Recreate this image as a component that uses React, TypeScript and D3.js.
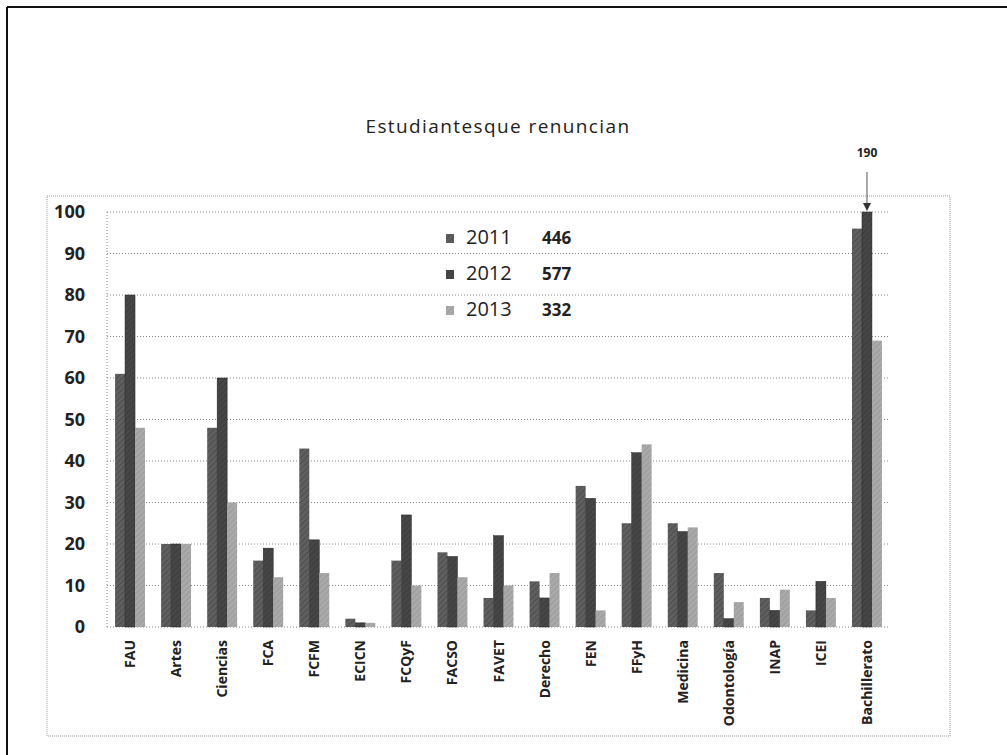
import React from 'react';
import * as d3 from 'd3';

const categories = ['FAU', 'Artes', 'Ciencias', 'FCA', 'FCFM', 'ECICN', 'FCQyF', 'FACSO', 'FAVET', 'Derecho', 'FEN', 'FFyH', 'Medicina', 'Odontología', 'INAP', 'ICEI', 'Bachillerato'];
const years = ['2011', '2012', '2013'];
const totals = [446, 577, 332];
const v2011 = [61, 20, 48, 16, 43, 2, 16, 18, 7, 11, 34, 25, 25, 13, 7, 4, 96];
const v2012 = [80, 20, 60, 19, 21, 1, 27, 17, 22, 7, 31, 42, 23, 2, 4, 11, 190];
const v2013 = [48, 20, 30, 12, 13, 1, 10, 12, 10, 13, 4, 44, 24, 6, 9, 7, 69];
const yTicks = [0, 10, 20, 30, 40, 50, 60, 70, 80, 90, 100];
const series = [v2011, v2012, v2013];
const colors = ['#5f5f5f', '#464646', '#a2a2a2'];

const App = () => {
  const W = 1007, H = 755;
  const plot = { left: 107, right: 890, top: 212, bottom: 627 };

  const x0 = d3.scaleBand().domain(categories).range([plot.left, plot.right]).paddingInner(0.35).paddingOuter(0.175);
  const x1 = d3.scaleBand().domain(years).range([0, x0.bandwidth()]);
  const y = d3.scaleLinear().domain([0, 100]).range([plot.bottom, plot.top]);

  const bachX = x0('Bachillerato')! + x1('2012')! + x1.bandwidth() / 2;
  const font = 'Open Sans, sans-serif';

  return (
    <svg width={W} height={H} style={{ position: 'absolute', left: 0, top: 0, background: '#fff' }}>
      <defs>
        {colors.map((c, i) => (
          <pattern key={i} id={`hatch${i}`} width="4" height="4" patternUnits="userSpaceOnUse" patternTransform="rotate(45)">
            <rect width="4" height="4" fill={c} />
            <line x1="0" y1="0" x2="0" y2="4" stroke={i === 2 ? '#d4d4d4' : '#222'} strokeWidth="1" opacity="0.6" />
          </pattern>
        ))}
      </defs>

      {/* scan border */}
      <line x1={7} y1={7} x2={W} y2={7} stroke="#111" strokeWidth={2} />
      <line x1={7} y1={7} x2={7} y2={H} stroke="#111" strokeWidth={2} />

      {/* chart area */}
      <rect x={47} y={196} width={903} height={540} fill="none" stroke="#999" strokeDasharray="1 1" />

      <text x={498} y={133} textAnchor="middle" fontFamily={font} fontSize={19} letterSpacing={1.4} fill="#222">
        Estudiantesque renuncian
      </text>

      {/* gridlines */}
      {yTicks.map(t => (
        <line key={t} x1={plot.left} x2={plot.right} y1={y(t)} y2={y(t)} stroke="#888" strokeDasharray="1 2" />
      ))}
      <line x1={plot.left} x2={plot.left} y1={plot.top} y2={plot.bottom} stroke="#888" strokeDasharray="1 2" />

      {yTicks.map(t => (
        <text key={t} x={85} y={y(t) + 6} textAnchor="end" fontFamily={font} fontWeight={700} fontSize={18} fill="#222">
          {t}
        </text>
      ))}

      {/* bars */}
      {categories.map((c, ci) => (
        <g key={c} transform={`translate(${x0(c)},0)`}>
          {series.map((s, si) => {
            const v = Math.min(s[ci], 100);
            return (
              <rect key={si} x={x1(years[si])} y={y(v)} width={x1.bandwidth()} height={y(0) - y(v)}
                fill={`url(#hatch${si})`} stroke={si === 1 ? '#222' : 'none'} strokeWidth={0.5} />
            );
          })}
        </g>
      ))}

      {/* x labels */}
      {categories.map(c => {
        const cx = x0(c)! + x0.bandwidth() / 2;
        return (
          <text key={c} transform={`translate(${cx + 5},${plot.bottom + 13}) rotate(-90)`} textAnchor="end"
            fontFamily={font} fontWeight={700} fontSize={14} fill="#222">
            {c}
          </text>
        );
      })}

      {/* legend */}
      {years.map((yr, i) => (
        <g key={yr} transform={`translate(446,${244 + i * 36})`}>
          <rect x={0} y={-10} width={8} height={9} fill={`url(#hatch${i})`} />
          <text x={20} y={0} fontFamily={font} fontSize={20} fill="#222">{yr}</text>
          <text x={96} y={0} fontFamily={font} fontWeight={700} fontSize={17} fill="#222">{totals[i]}</text>
        </g>
      ))}

      {/* annotation for clipped bar */}
      <text x={bachX} y={157} textAnchor="middle" fontFamily={font} fontWeight={700} fontSize={12} fill="#222">
        {v2012[16]}
      </text>
      <line x1={bachX} x2={bachX} y1={172} y2={206} stroke="#555" strokeWidth={1} />
      <path d={`M${bachX - 4},${203} L${bachX + 4},${203} L${bachX},${211} Z`} fill="#333" />
    </svg>
  );
};

export default App;
